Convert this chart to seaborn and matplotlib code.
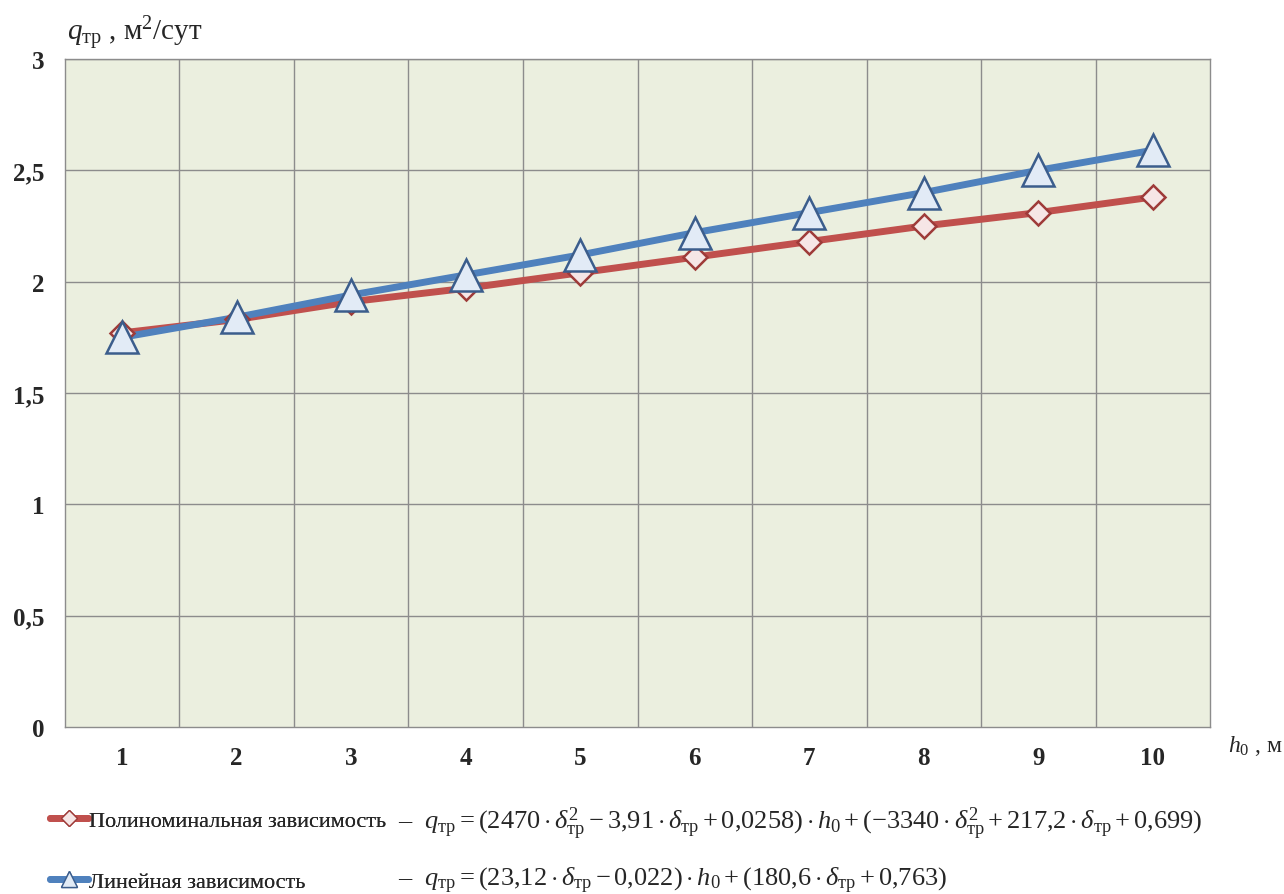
import matplotlib
matplotlib.use("Agg")
import matplotlib.pyplot as plt
import seaborn as sns
import pandas as pd
from matplotlib.lines import Line2D

# Data: specific discharge q_тр (м²/сут) versus head h_0 (м)
h0 = [1, 2, 3, 4, 5, 6, 7, 8, 9, 10]
q_poly = [1.77, 1.83, 1.91, 1.97, 2.04, 2.11, 2.18, 2.25, 2.31, 2.38]
q_lin = [1.75, 1.84, 1.94, 2.03, 2.12, 2.22, 2.31, 2.40, 2.50, 2.59]
series_names = ["Полиноминальная зависимость", "Линейная зависимость"]
y_ticks = [0, 0.5, 1, 1.5, 2, 2.5, 3]
y_tick_labels = ["0", "0,5", "1", "1,5", "2", "2,5", "3"]

sns.set_style("white")
plt.rcParams["font.family"] = ["Liberation Serif", "DejaVu Serif"]
plt.rcParams["mathtext.fontset"] = "custom"
plt.rcParams["mathtext.rm"] = "Liberation Serif"
plt.rcParams["mathtext.it"] = "Liberation Serif:italic"
plt.rcParams["mathtext.bf"] = "Liberation Serif:bold"

df = pd.DataFrame({
    "h0": h0 + h0,
    "q": q_poly + q_lin,
    "series": [series_names[0]] * len(h0) + [series_names[1]] * len(h0),
})

red = "#C0504D"
blue = "#4F81BD"
poly_face, poly_edge = "#F6E6E6", "#9E3B39"
lin_face, lin_edge = "#E2EBF6", "#3B5D8C"

fig = plt.figure(figsize=(12.84, 8.95), dpi=100)
ax = fig.add_axes([0.0506, 0.1866, 0.8918, 0.7464])
ax.set_facecolor("#EBEFDF")

sns.lineplot(data=df, x="h0", y="q", hue="series", style="series",
             palette=[red, blue], markers=["D", "^"], dashes=False,
             linewidth=5, markersize=0, legend=False, ax=ax)

# markers drawn on top of the lines
ax.plot(h0, q_poly, linestyle="none", marker="D", markersize=12,
        markerfacecolor=poly_face, markeredgecolor=poly_edge,
        markeredgewidth=1.8, zorder=5)
ax.plot(h0, q_lin, linestyle="none", marker="^", markersize=23,
        markerfacecolor=lin_face, markeredgecolor=lin_edge,
        markeredgewidth=1.8, zorder=6)

ax.set_xlim(0.5, 10.5)
ax.set_ylim(0, 3)
ax.set_xticks(h0)
ax.set_xticklabels([str(v) for v in h0], fontsize=18, fontweight="bold")
ax.set_xticks([v + 0.5 for v in range(0, 11)], minor=True)
ax.set_yticks(y_ticks)
ax.set_yticklabels(y_tick_labels, fontsize=18, fontweight="bold")
ax.tick_params(axis="x", which="major", length=4, color="#888888",
               direction="out", pad=10)
ax.tick_params(axis="x", which="minor", length=7, color="#888888", direction="out")
ax.tick_params(axis="y", which="major", length=6, color="#888888",
               direction="out", pad=9)
ax.set_xlabel("")
ax.set_ylabel("")

ax.grid(False)
for v in range(1, 10):
    ax.axvline(v + 0.5, color="#8C8C8C", linewidth=1.0, zorder=1)
for v in y_ticks[1:]:
    ax.axhline(v, color="#8C8C8C", linewidth=1.0, zorder=1)
for s in ax.spines.values():
    s.set_color("#8C8C8C")
    s.set_linewidth(1.0)

# axis captions
fig.text(0.052, 0.962, r"$q_{\mathrm{тр}}$ , м$^2$/сут", fontsize=21,
         ha="left", va="center")
fig.text(0.956, 0.167, r"$h_0$ , м", fontsize=17, ha="left", va="center")

# legend entries, one row each, followed by the fitted formulas
handles = [
    Line2D([0], [0], color=red, linewidth=5, marker="D", markersize=8,
           markerfacecolor=poly_face, markeredgecolor=poly_edge),
    Line2D([0], [0], color=blue, linewidth=5, marker="^", markersize=11,
           markerfacecolor=lin_face, markeredgecolor=lin_edge),
]
row_y = [0.0816, 0.0140]
for handle, name, y in zip(handles, series_names, row_y):
    leg = fig.legend([handle], [name], loc="center left",
                     bbox_to_anchor=(0.039, y), frameon=False, fontsize=16,
                     handlelength=1.7, handletextpad=0.05, borderpad=0,
                     borderaxespad=0)
    fig.add_artist(leg)

formula_poly = (r"–  $q_{\mathrm{тр}} = (2470\cdot\delta^2_{\mathrm{тр}} - 3{,}91\cdot\delta_{\mathrm{тр}}"
                r" + 0{,}0258)\cdot h_0 + (-3340\cdot\delta^2_{\mathrm{тр}} + 217{,}2\cdot\delta_{\mathrm{тр}}"
                r" + 0{,}699)$")
formula_lin = (r"–  $q_{\mathrm{тр}} = (23{,}12\cdot\delta_{\mathrm{тр}} - 0{,}022)\cdot h_0"
               r" + (180{,}6\cdot\delta_{\mathrm{тр}} + 0{,}763)$")
fig.text(0.310, 0.080, formula_poly, fontsize=19, ha="left", va="center")
fig.text(0.310, 0.016, formula_lin, fontsize=19, ha="left", va="center")

fig.savefig("out.png", dpi=100, facecolor="white")
